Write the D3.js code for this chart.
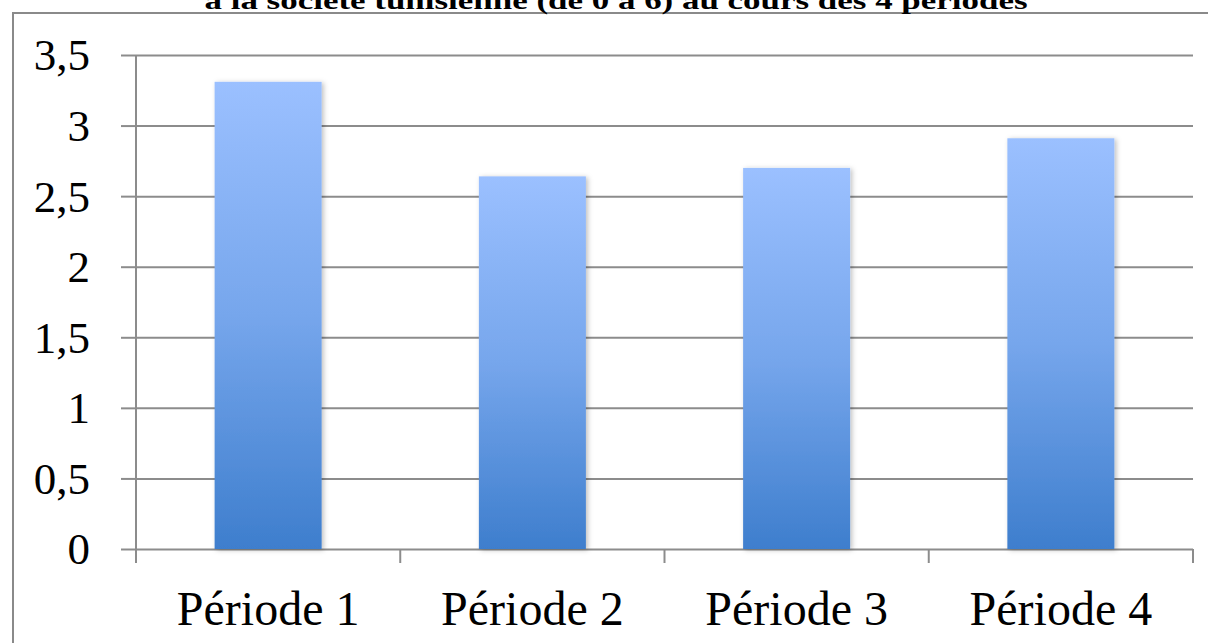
<!DOCTYPE html>
<html>
<head>
<meta charset="utf-8">
<script src="https://cdn.jsdelivr.net/npm/d3@7"></script>
<style>
  html, body { margin: 0; padding: 0; background: #fff; overflow: hidden; }
  svg { display: block; }
</style>
</head>
<body>
<div id="chart"></div>
<script>
// Données du graphique
const categories = ['Période 1', 'Période 2', 'Période 3', 'Période 4'];
const valeurs = [3.31, 2.64, 2.70, 2.91];
const yTicks = [0, 0.5, 1, 1.5, 2, 2.5, 3, 3.5];
const titre = 'à la société tunisienne (de 0 à 6) au cours des 4 périodes';

const W = 1208, H = 643;
const margin = {top: 55, right: 15, bottom: 94, left: 136};
const width = 1193 - margin.left, height = 549 - margin.top;

const svg = d3.select('#chart').append('svg')
    .attr('width', W).attr('height', H);

// dégradé des barres
const defs = svg.append('defs');
const grad = defs.append('linearGradient')
    .attr('id', 'grad').attr('x1', 0).attr('y1', 0).attr('x2', 0).attr('y2', 1);
grad.append('stop').attr('offset', '0%').attr('stop-color', '#9bc0ff');
grad.append('stop').attr('offset', '50%').attr('stop-color', '#76a6ec');
grad.append('stop').attr('offset', '100%').attr('stop-color', '#3e7ecd');

const shadow = defs.append('filter').attr('id', 'ombre')
    .attr('x', '-10%').attr('y', '-10%').attr('width', '130%').attr('height', '120%');
shadow.append('feDropShadow')
    .attr('dx', 2).attr('dy', 1).attr('stdDeviation', 2.5)
    .attr('flood-color', '#000').attr('flood-opacity', 0.25);

// cadre extérieur
svg.append('rect')
    .attr('x', 13).attr('y', 13).attr('width', 1220).attr('height', 700)
    .attr('fill', 'none').attr('stroke', '#8a8a8a').attr('stroke-width', 2);

// titre (haut hors cadre, comme dans l'original)
svg.append('text')
    .attr('x', 616).attr('y', 9)
    .attr('text-anchor', 'middle')
    .attr('font-family', 'Liberation Serif, serif')
    .attr('font-weight', 'bold')
    .attr('font-size', 26)
    .attr('textLength', 823)
    .attr('lengthAdjust', 'spacingAndGlyphs')
    .text(titre);

const chart = svg.append('g')
    .attr('transform', 'translate(' + margin.left + ',' + margin.top + ')');

const x = d3.scaleBand()
    .domain(categories)
    .range([0, width])
    .paddingInner(0.595)
    .paddingOuter(0.2975);

const y = d3.scaleLinear()
    .domain([0, 3.5])
    .range([height, 0]);

// axe Y + grille
const yAxis = function(g) {
    g.call(d3.axisLeft(y).tickValues(yTicks)
        .tickFormat(function(d) { return String(d).replace('.', ','); })
        .tickSize(15).tickPadding(31));
    g.select('.domain').remove();
    g.selectAll('.tick line').clone()
        .attr('x2', width);
    g.selectAll('.tick line')
        .attr('stroke', '#8c8c8c').attr('stroke-width', 2);
    g.selectAll('.tick text')
        .attr('font-family', 'Liberation Serif, serif')
        .attr('font-size', 45)
        .attr('fill', '#000')
        .attr('dy', '0.33em');
};
chart.append('g').call(yAxis);

// ligne verticale de l'axe Y
chart.append('line')
    .attr('x1', 0).attr('x2', 0)
    .attr('y1', 0).attr('y2', height + 14)
    .attr('stroke', '#8c8c8c').attr('stroke-width', 2);

// graduations de l'axe X
const bornes = d3.range(categories.length + 1).map(function(i) { return i * x.step(); });
chart.selectAll('.xtick')
    .data(bornes)
    .enter().append('line')
    .attr('x1', function(d) { return d; })
    .attr('x2', function(d) { return d; })
    .attr('y1', height).attr('y2', height + 14)
    .attr('stroke', '#8c8c8c').attr('stroke-width', 2);

// barres
chart.selectAll('.bar')
    .data(valeurs)
    .enter().append('rect')
    .attr('x', function(d, i) { return x(categories[i]); })
    .attr('y', function(d) { return y(d); })
    .attr('width', x.bandwidth())
    .attr('height', function(d) { return height - y(d); })
    .attr('fill', 'url(#grad)')
    .attr('filter', 'url(#ombre)');

// étiquettes X
chart.selectAll('.xlabel')
    .data(categories)
    .enter().append('text')
    .attr('x', function(d) { return x(d) + x.bandwidth() / 2; })
    .attr('y', height + 76)
    .attr('text-anchor', 'middle')
    .attr('font-family', 'Liberation Serif, serif')
    .attr('font-size', 48)
    .attr('fill', '#000')
    .text(function(d) { return d; });
</script>
</body>
</html>
